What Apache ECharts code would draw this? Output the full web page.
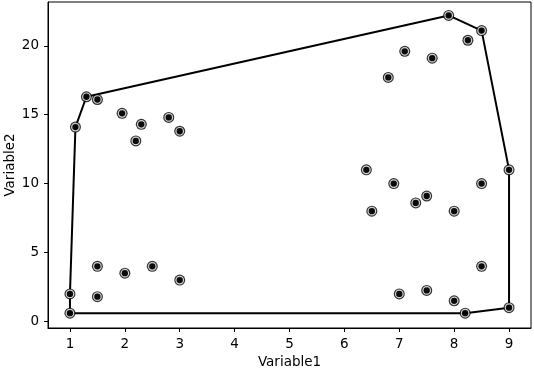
<!DOCTYPE html>
<html><head><meta charset="utf-8">
<script src="https://cdn.jsdelivr.net/npm/echarts@6/dist/echarts.min.js"></script>
<style>html,body{margin:0;padding:0;background:#fff}#c{width:534px;height:372px}</style>
</head><body><div id="c"></div>
<script>
const xValues = [1, 1, 1.1, 1.3, 1.5, 1.95, 2.3, 2.2, 2.8, 3, 1.5, 2, 2.5, 3, 1.5,
                 7.9, 8.5, 8.25, 7.1, 7.6, 6.8, 9, 6.4, 6.9, 8.5, 7.5, 7.3, 6.5, 8, 8.5, 7, 7.5, 8, 8.2, 9];
const yValues = [0.6, 2, 14.1, 16.3, 16.1, 15.1, 14.3, 13.1, 14.8, 13.8, 4, 3.5, 4, 3, 1.8,
                 22.2, 21.1, 20.4, 19.6, 19.1, 17.7, 11, 11, 10, 10, 9.1, 8.6, 8, 8, 4, 2, 2.25, 1.5, 0.6, 1];
const hullX = [1, 8.2, 9, 9, 8.5, 7.9, 1.3, 1.1, 1, 1];
const hullY = [0.6, 0.6, 1, 11, 21.1, 22.2, 16.3, 14.1, 2, 0.6];
const xTicks = [1, 2, 3, 4, 5, 6, 7, 8, 9];
const yTicks = [0, 5, 10, 15, 20];
const xName = 'Variable1';
const yName = 'Variable2';

const pts = xValues.map((x, i) => [x, yValues[i]]);
const hull = hullX.map((x, i) => [x, hullY[i]]);
const font = 'DejaVu Sans';
const axisCommon = {
  axisLine: {show: true, onZero: false, lineStyle: {color: '#000', width: 1}},
  axisTick: {show: true, inside: false, length: 4, lineStyle: {color: '#000', width: 1}},
  axisLabel: {color: '#000', fontFamily: font, fontSize: 13.5, margin: 9},
  splitLine: {show: false},
  nameLocation: 'middle',
  nameTextStyle: {color: '#000', fontFamily: font, fontSize: 13.5}
};
const chart = echarts.init(document.getElementById('c'));
chart.setOption({
  animation: false,
  grid: {left: 48, right: 3, top: 2, bottom: 44, show: true, borderColor: '#000', borderWidth: 1,
         containLabel: false, outerBoundsMode: 'none'},
  xAxis: Object.assign({}, axisCommon, {
    type: 'value', min: 0.6, max: 9.4, name: xName, nameGap: 26,
    axisTick: Object.assign({}, axisCommon.axisTick, {customValues: xTicks}),
    axisLabel: Object.assign({}, axisCommon.axisLabel, {customValues: xTicks})
  }),
  yAxis: Object.assign({}, axisCommon, {
    type: 'value', min: -0.475, max: 23.175, name: yName, nameGap: 31, nameMoveOverlap: false,
    axisTick: Object.assign({}, axisCommon.axisTick, {customValues: yTicks}),
    axisLabel: Object.assign({}, axisCommon.axisLabel, {customValues: yTicks})
  }),
  series: [
    {type: 'line', data: hull, symbol: 'none', lineStyle: {color: '#000', width: 2}, z: 1},
    {type: 'scatter', data: pts, symbol: 'circle', symbolSize: 11, itemStyle: {color: '#000'}, z: 2},
    {type: 'scatter', data: pts, symbol: 'circle', symbolSize: 7.5, itemStyle: {color: '#000', borderColor: '#fff', borderWidth: 1.2}, z: 3}
  ]
});
</script></body></html>
